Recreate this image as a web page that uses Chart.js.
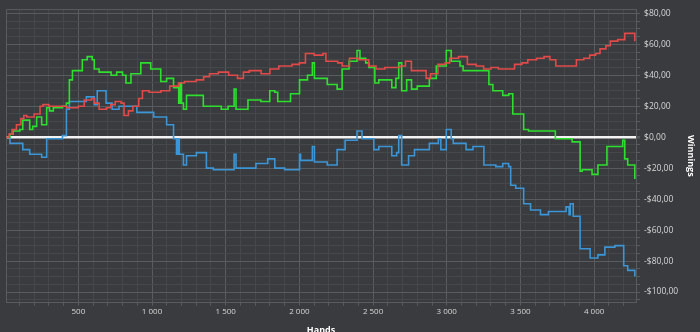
<!DOCTYPE html>
<html>
<head>
<meta charset="utf-8">
<script src="https://cdn.jsdelivr.net/npm/chart.js@4/dist/chart.umd.min.js"></script>
<style>
  html, body { margin: 0; padding: 0; background: #393b3e; overflow: hidden; }
  #wrap { width: 700px; height: 332px; overflow: hidden; }
</style>
</head>
<body>
<div id="wrap"><canvas id="myChart" width="700" height="340"></canvas></div>
<script>
// hands where each session's total changes, and the new total in $
const redHands = [9, 30, 50, 80, 110, 130, 150, 200, 240, 260, 300, 380, 420, 500, 540, 590, 610, 641, 690, 720, 750, 790, 810, 840, 870, 910, 935, 980, 1060, 1120, 1180, 1220, 1300, 1350, 1390, 1450, 1520, 1580, 1620, 1660, 1740, 1800, 1860, 1950, 2000, 2041, 2100, 2160, 2180, 2260, 2290, 2340, 2400, 2470, 2520, 2580, 2680, 2720, 2760, 2800, 2860, 2890, 2940, 2990, 3020, 3080, 3140, 3200, 3250, 3300, 3350, 3420, 3460, 3510, 3550, 3610, 3660, 3700, 3740, 3800, 3880, 3930, 3970, 4010, 4040, 4080, 4110, 4160, 4208, 4255, 4276]
const redWin = [0, 2, 5, 8, 12, 14, 13, 15, 20, 21, 20, 20, 19, 20, 24, 25, 22, 18, 19, 21, 23, 22, 14, 17, 20, 25, 30, 29, 30, 33, 35, 36, 37, 39, 41, 42, 40, 38, 42, 43, 41, 44, 46, 47, 48, 54, 53, 54, 49, 48, 46, 51, 50, 46, 44, 45, 46, 49, 43, 43, 38, 41, 47, 48, 51, 52, 47, 46, 44, 45, 44, 44, 47, 48, 50, 51, 52, 50, 46, 46, 50, 51, 53, 54, 57, 59, 62, 63, 67, 67, 62]

const greenHands = [9, 36, 56, 103, 123, 170, 190, 217, 251, 285, 305, 330, 372, 392, 419, 439, 460, 507, 527, 560, 594, 608, 641, 675, 722, 760, 800, 823, 857, 897, 924, 944, 991, 1032, 1059, 1099, 1146, 1181, 1190, 1200, 1213, 1234, 1301, 1348, 1429, 1470, 1516, 1557, 1570, 1651, 1705, 1738, 1799, 1833, 1853, 1920, 1940, 1987, 2001, 2041, 2055, 2088, 2102, 2155, 2189, 2256, 2290, 2337, 2391, 2411, 2450, 2472, 2512, 2539, 2607, 2627, 2655, 2674, 2694, 2728, 2761, 2800, 2882, 2929, 2997, 3030, 3090, 3111, 3246, 3286, 3313, 3380, 3421, 3448, 3522, 3555, 3670, 3737, 3804, 3851, 3905, 3919, 3986, 4026, 4087, 4194, 4208, 4228, 4276]
const greenWin = [0, 2, 4, 5, 11, 5, 7, 13, 8, 19, 17, 19, 19, 20, 22, 37, 43, 43, 50, 52, 50, 44, 42, 42, 40, 42, 40, 35, 41, 41, 48, 48, 44, 44, 36, 38, 32, 22, 35, 22, 18, 27, 27, 20, 20, 18, 20, 31, 18, 24, 24, 23, 30, 29, 23, 23, 28, 28, 37, 37, 40, 48, 38, 38, 34, 31, 44, 49, 56, 51, 48, 45, 35, 37, 37, 32, 38, 48, 30, 37, 31, 33, 38, 46, 56, 49, 46, 43, 43, 34, 30, 27, 28, 15, 5, 4, 4, -1, -1, -3, -22, -21, -24, -18, -6, -2, -14, -18, -27]

const blueHands = [9, 36, 123, 170, 251, 285, 392, 419, 439, 554, 608, 628, 688, 729, 776, 897, 1011, 1099, 1146, 1166, 1175, 1185, 1213, 1234, 1301, 1369, 1416, 1557, 1570, 1705, 1785, 1833, 1900, 2001, 2008, 2088, 2102, 2189, 2256, 2310, 2391, 2425, 2505, 2539, 2627, 2660, 2674, 2694, 2741, 2781, 2882, 2943, 2960, 2997, 3030, 3044, 3131, 3178, 3252, 3333, 3380, 3420, 3434, 3468, 3522, 3569, 3636, 3690, 3800, 3810, 3830, 3838, 3858, 3905, 3973, 4026, 4073, 4141, 4201, 4228, 4276]
const blueWin = [0, -4, -8, -11, -13, -1, 1, 18, 23, 26, 21, 30, 22, 18, 20, 16, 13, 8, -1, -11, -1, -11, -18, -12, -10, -20, -21, -11, -20, -17, -14, -20, -21, -11, -15, -6, -16, -18, -8, -2, 4, -1, -8, -6, -12, -10, 1, -18, -12, -8, -4, -1, -8, 5, -1, -4, -8, -6, -18, -19, -17, -19, -31, -33, -43, -47, -50, -48, -48, -45, -50, -43, -51, -72, -78, -76, -71, -70, -83, -86, -90]

const handsMin = 9
const handsMax = 4285
const winMin = -106.8
const winMax = 82.7

const minorGrid = '#45484b'
const majorGrid = '#595c5f'

const toPoints = (xs, ys) => xs.map((x, i) => ({ x, y: ys[i] }))

const line = (data, color) => ({
  data,
  borderColor: color,
  borderWidth: 1.6,
  pointRadius: 0,
  stepped: true,
  fill: false,
})

const money = (v) => {
  const s = Math.abs(v).toFixed(2).replace('.', ',')
  return (v < 0 ? '-$' : '$') + s
}
const thousands = (v) => {
  if (v < 1000) return String(v)
  const rest = String(v % 1000).padStart(3, '0')
  return Math.floor(v / 1000) + ' ' + rest
}

// top and left edges of the plot box (the axes only draw bottom/right)
const frame = {
  id: 'frame',
  beforeDatasetsDraw(chart) {
    const { ctx, chartArea: a } = chart
    ctx.save()
    ctx.strokeStyle = majorGrid
    ctx.lineWidth = 1
    ctx.beginPath()
    ctx.moveTo(a.left + 0.5, a.bottom)
    ctx.lineTo(a.left + 0.5, a.top + 0.5)
    ctx.lineTo(a.right, a.top + 0.5)
    ctx.stroke()
    ctx.restore()
  },
}

const ctx = document.getElementById('myChart').getContext('2d')
new Chart(ctx, {
  type: 'line',
  data: {
    datasets: [
      line(toPoints(redHands, redWin), '#e24a4a'),
      line(toPoints(greenHands, greenWin), '#2ee02e'),
      line(toPoints(blueHands, blueWin), '#3b95d6'),
    ],
  },
  plugins: [frame],
  options: {
    responsive: false,
    animation: false,
    devicePixelRatio: 1,
    layout: { padding: { left: 6, top: 5, right: 0, bottom: 0 } },
    plugins: { legend: { display: false }, tooltip: { enabled: false } },
    scales: {
      x: {
        type: 'linear',
        min: handsMin,
        max: handsMax,
        border: { color: majorGrid },
        grid: {
          color: (c) => (c.tick && c.tick.value % 500 === 0 ? majorGrid : minorGrid),
          tickColor: majorGrid,
          tickLength: 3,
        },
        ticks: {
          stepSize: 100,
          includeBounds: false,
          autoSkip: false,
          maxRotation: 0,
          maxTicksLimit: 100,
          padding: 1,
          color: '#d6d6d6',
          font: { family: 'Open Sans', size: 8 },
          callback: (v) => (v % 500 === 0 ? thousands(v) : ''),
        },
        title: {
          display: true,
          text: 'Hands',
          color: '#ffffff',
          font: { family: 'Open Sans', size: 9, weight: 'bold' },
          padding: { top: 8, bottom: 4 },
        },
      },
      y: {
        type: 'linear',
        position: 'right',
        min: winMin,
        max: winMax,
        border: { color: majorGrid },
        grid: {
          color: (c) => {
            const v = c.tick ? c.tick.value : 1
            if (v === 0) return '#f2f2f2'
            return v % 20 === 0 ? majorGrid : minorGrid
          },
          lineWidth: (c) => (c.tick && c.tick.value === 0 ? 2.5 : 1),
          tickColor: majorGrid,
          tickLength: 4,
        },
        ticks: {
          stepSize: 5,
          includeBounds: false,
          autoSkip: false,
          maxTicksLimit: 100,
          padding: 4,
          color: '#d6d6d6',
          font: { family: 'Open Sans', size: 8.5 },
          callback: (v) => (v % 20 === 0 ? money(v) : ''),
        },
        title: {
          display: true,
          text: 'Winnings',
          color: '#ffffff',
          font: { family: 'Open Sans', size: 9, weight: 'bold' },
          padding: { top: 4, bottom: 3 },
        },
      },
    },
  },
})
</script>
</body>
</html>
